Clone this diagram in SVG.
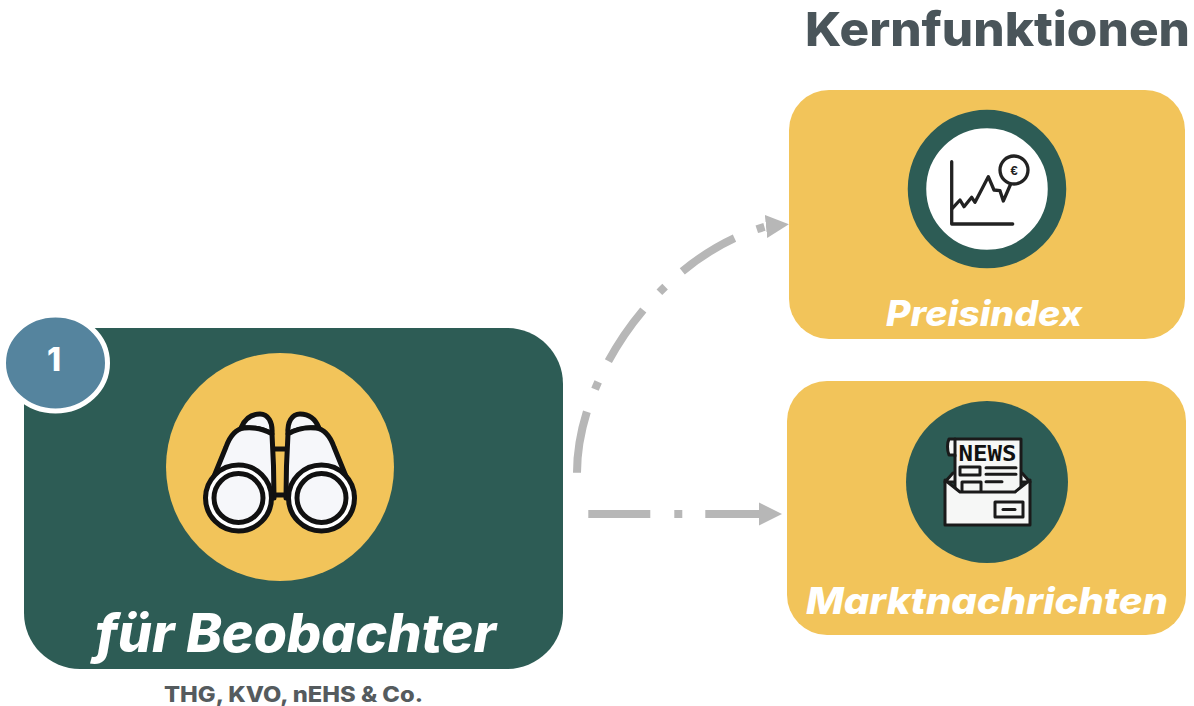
<svg xmlns="http://www.w3.org/2000/svg" width="1194" height="706" viewBox="0 0 1194 706">
<style>
.t{font-family:"Inter","Open Sans","Liberation Sans",sans-serif;font-weight:800}
.w{fill:#fff;font-style:italic}
.y{fill:#F2C45A}
.g{fill:#2D5C55}
.conn{fill:none;stroke:#B7B7B7;stroke-width:8;stroke-dasharray:62 24 8 23}
.ic{fill:#F6F7FA;stroke:#111;stroke-width:5;stroke-linejoin:round;stroke-linecap:round}
.ln{fill:none;stroke:#222;stroke-width:3.300;stroke-linejoin:round;stroke-linecap:round}
.nw{fill:#F6F7F6;stroke:#1a1a1a;stroke-width:3;stroke-linejoin:round;stroke-linecap:round}
</style>
<defs>
<marker id="ah" markerUnits="userSpaceOnUse" markerWidth="24" markerHeight="24" refX="1" refY="12" orient="auto"><path d="M0 0.5L23 12L0 23.5Z" fill="#B7B7B7"/></marker>
<g id="barrel">
<path class="ic" d="M241 428C245 418 252 414 260 414C268 414 273 422 272 434C262 428 252 427 241 428Z"/>
<path class="ic" d="M206 496L226 447C230 436 236 429 244 428C254 427 264 429 272 434C273 450 274 470 274 498Z"/>
<circle cx="238.500" cy="498" r="33" fill="#fff" stroke="#111" stroke-width="5"/>
<circle cx="238.500" cy="498" r="24.500" fill="#F6F7FA" stroke="#111" stroke-width="5"/>
</g>
</defs>
<text class="t" x="805" y="46" font-size="47" fill="#4A555A" textLength="385" lengthAdjust="spacingAndGlyphs">Kernfunktionen</text>

<g id="connectors">
<path class="conn" marker-end="url(#ah)" d="M577 472.700C577 375 662 255 766 226.500L767 226.400"/>
<path class="conn" marker-end="url(#ah)" d="M588.300 514L760 514"/>
</g>

<g id="node-beobachter">
<rect class="g" x="24" y="328" width="539" height="341" rx="56"/>
<circle class="y" cx="280" cy="467" r="114"/>
<g id="binoculars">
<path d="M273 449H287M273 495H287" stroke="#111" stroke-width="5" fill="none"/>
<use href="#barrel"/>
<use href="#barrel" transform="matrix(-1 0 0 1 560 0)"/>
</g>
<text class="t w" x="95" y="652" font-size="53" font-weight="900" textLength="401" lengthAdjust="spacingAndGlyphs">für Beobachter</text>
</g>

<g id="badge">
<ellipse cx="55.500" cy="363" rx="52" ry="48" fill="#55849E" stroke="#fff" stroke-width="5"/>
<text class="t" x="54" y="371" font-size="32" font-weight="900" fill="#fff" text-anchor="middle">1</text>
</g>

<text class="t" x="164" y="702" font-size="21" fill="#555B5E" textLength="259" lengthAdjust="spacingAndGlyphs">THG, KVO, nEHS &amp; Co.</text>

<g id="node-preisindex">
<rect class="y" x="789" y="90" width="396" height="249" rx="40"/>
<circle cx="987" cy="189" r="70" fill="#fff" stroke="#2D5C55" stroke-width="18.500"/>
<path class="ln" d="M951.700 161.700V224H1012.700"/>
<path class="ln" d="M952.300 208.300L960 200L964 206.700L971.700 197.300L975 202.300L988.300 176.700L994 190L1000 190.700L1003.300 201L1010.700 184"/>
<circle class="ln" cx="1014" cy="170" r="14" fill="#fff"/>
<text x="1014" y="174.500" font-family="Liberation Sans, sans-serif" font-weight="700" font-size="13" fill="#222" text-anchor="middle">€</text>
<text class="t w" x="886" y="326" font-size="35" textLength="196" lengthAdjust="spacingAndGlyphs">Preisindex</text>
</g>

<g id="node-marktnachrichten">
<rect class="y" x="787" y="381" width="399" height="254" rx="40"/>
<circle class="g" cx="987" cy="482" r="81"/>
<path class="nw" d="M945 482L953 473H1022L1030 482Z"/>
<path class="nw" d="M955 455H949C947 450 947 443 949 439H1021V495H955Z"/>
<path class="nw" d="M955 439V456"/>
<text x="958.500" y="461" font-family="DejaVu Sans Mono, Liberation Mono, monospace" font-weight="700" font-size="22" fill="#111" textLength="58" lengthAdjust="spacingAndGlyphs">NEWS</text>
<rect class="nw" x="960" y="467" width="20" height="8"/>
<rect class="nw" x="962" y="482" width="19" height="12"/>
<path class="nw" d="M986 467.700H1016M986 474.300H1016M986 481.700H1002"/>
<path class="nw" d="M945 480L960 492H1015L1030 480V525H945Z"/>
<rect class="nw" x="995" y="502" width="28" height="15"/>
<path class="nw" d="M1003 509.500H1015"/>
<text class="t w" x="806" y="614" font-size="37" textLength="362" lengthAdjust="spacingAndGlyphs">Marktnachrichten</text>
</g>
</svg>
